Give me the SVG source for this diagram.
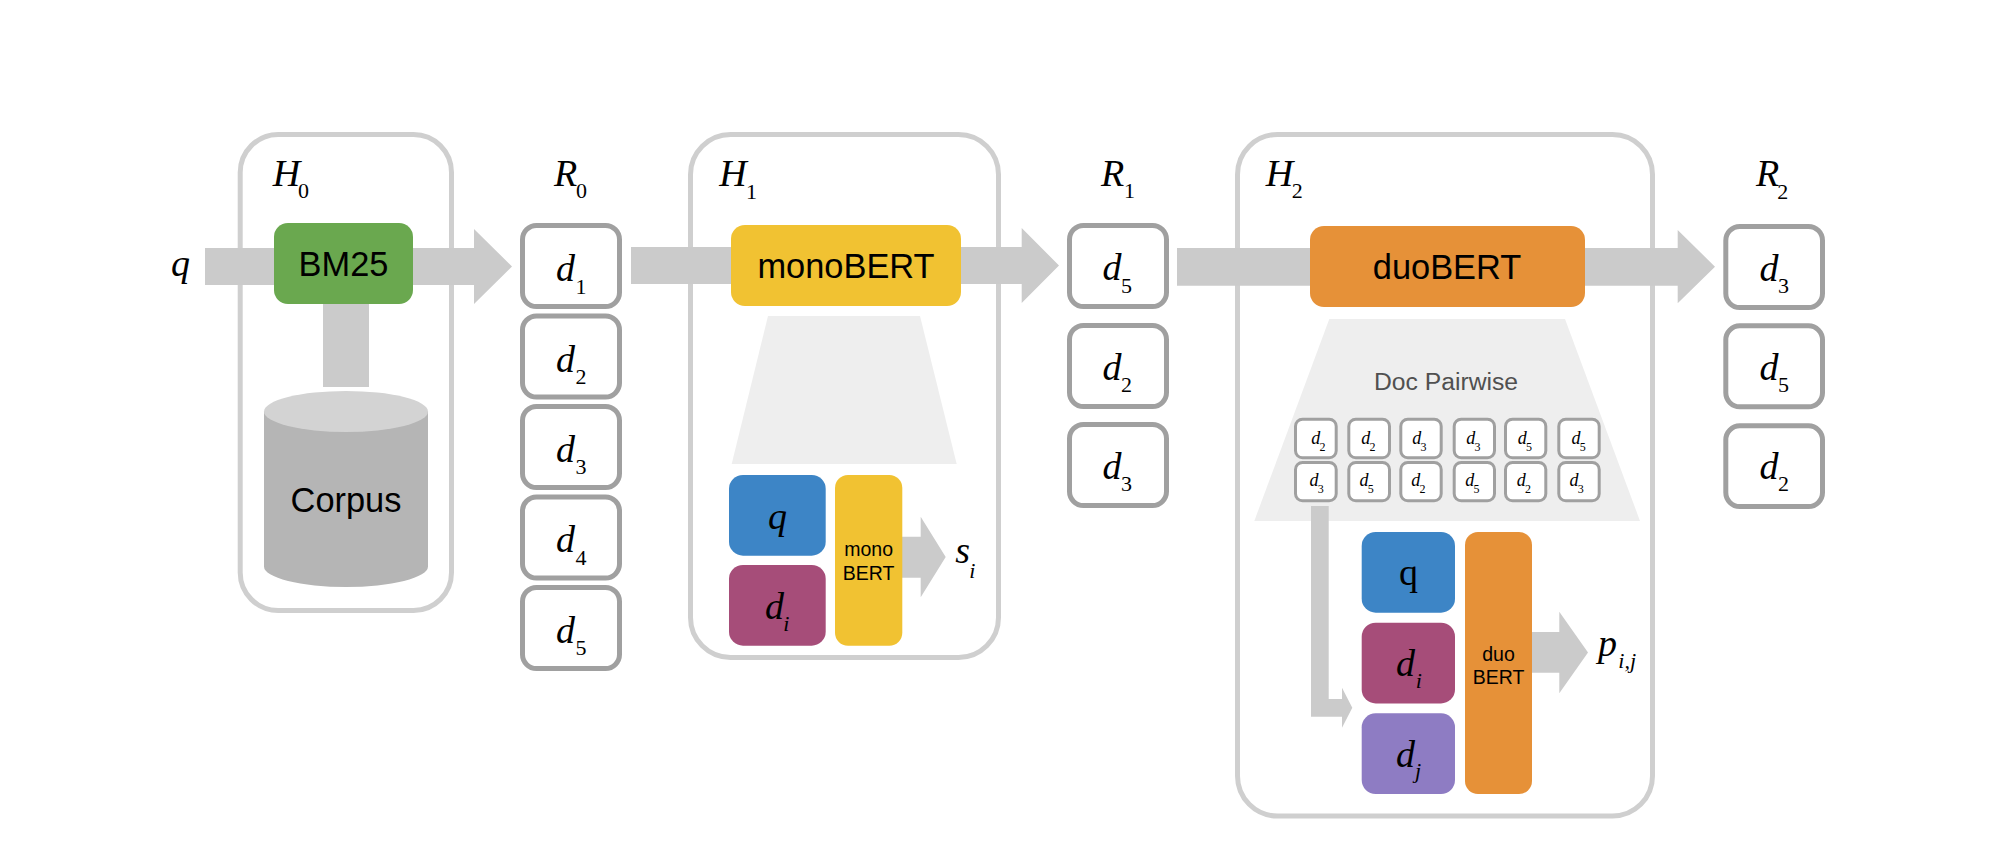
<svg xmlns="http://www.w3.org/2000/svg" width="1997" height="857" viewBox="0 0 1997 857">
<style>
.frame{fill:#fff;stroke:#cfcfcf;stroke-width:5}
.doc{fill:#fff;stroke:#a0a0a0;stroke-width:5}
.pair{fill:#fff;stroke:#a0a0a0;stroke-width:3}
.arrow{fill:#cbcbcb}
.funnel{fill:#eeeeee}
.m{font-family:"Liberation Serif","Times New Roman",serif;font-style:italic;font-size:38px;fill:#000}
.sub{font-family:"Liberation Serif","Times New Roman",serif;font-size:22px;fill:#000}
.subi{font-family:"Liberation Serif","Times New Roman",serif;font-style:italic;font-size:22px;fill:#000}
.sm{font-family:"Liberation Serif","Times New Roman",serif;font-style:italic;font-size:18px;fill:#000}
.smsub{font-family:"Liberation Serif","Times New Roman",serif;font-size:12px;fill:#000}
.lg{font-family:"Liberation Sans",Arial,sans-serif;font-size:34.4px;fill:#000;text-anchor:middle}
.ss{font-family:"Liberation Sans",Arial,sans-serif;font-size:19.5px;fill:#000;text-anchor:middle}
</style>

<g id="H0">
<rect class="frame" x="240.2" y="134.5" width="211.3" height="476" rx="38"/>
<text class="m" x="272.7" y="186">H</text><text class="sub" x="298" y="198">0</text>
</g>
<g id="H1">
<rect class="frame" x="690.5" y="134.5" width="308" height="523" rx="40"/>
<text class="m" x="719.3" y="186">H</text><text class="sub" x="746" y="198.5">1</text>
<polygon class="funnel" points="768,316 920,316 956.7,464 731.7,464"/>
</g>
<g id="H2">
<rect class="frame" x="1237.5" y="134.5" width="415" height="681.5" rx="40"/>
<text class="m" x="1265.7" y="186">H</text><text class="sub" x="1291.7" y="198">2</text>
<polygon class="funnel" points="1329.3,319 1565,319 1640,521 1254.3,521"/>
<text x="1446" y="390" font-family="'Liberation Sans',Arial,sans-serif" font-size="24.7" fill="#505050" text-anchor="middle">Doc Pairwise</text>
</g>

<g id="connectors">
<path class="arrow" d="M205 248H474V229L512 266.5L474 304V285H205Z"/>
<rect class="arrow" x="323" y="304" width="46" height="83"/>
<path class="arrow" d="M631 247H1021.7V228L1059 265.5L1021.7 303V284H631Z"/>
<path class="arrow" d="M900 536.7H920.7V516.7L945.7 557L920.7 597.3V577.7H900Z"/>
<path class="arrow" d="M1177 248H1677.7V230L1715 266.7L1677.7 303.3V285.7H1177Z"/>
<path class="arrow" d="M1311 506H1328.7V699H1342V687.7L1352.3 707.7L1342 727.7V716.7H1311Z"/>
<path class="arrow" d="M1530 632H1559.3V611.7L1588 652.5L1559.3 693.3V672.7H1530Z"/>
</g>

<g id="q-input"><text class="m" x="171" y="276">q</text></g>

<g id="BM25">
<rect x="274" y="223" width="139" height="81" rx="14" fill="#6aa84f"/>
<text class="lg" x="343.5" y="276">BM25</text>
</g>
<g id="Corpus">
<path d="M264 411.5V566.5A82 20.5 0 0 0 428 566.5V411.5Z" fill="#b5b5b5"/>
<ellipse cx="346" cy="411.5" rx="82" ry="20.5" fill="#d3d3d3"/>
<text class="lg" x="346" y="512">Corpus</text>
</g>

<g id="R0">
<text class="m" x="554" y="186">R</text><text class="sub" x="576" y="198">0</text>
<g id="R0-d1"><rect class="doc" x="522.5" y="225.5" width="97" height="81" rx="14"/><text class="m" x="556" y="281">d</text><text class="sub" x="575.5" y="293.5">1</text></g>
<g id="R0-d2"><rect class="doc" x="522.5" y="316" width="97" height="81" rx="14"/><text class="m" x="556" y="371.5">d</text><text class="sub" x="575.5" y="384">2</text></g>
<g id="R0-d3"><rect class="doc" x="522.5" y="406.5" width="97" height="81" rx="14"/><text class="m" x="556" y="461.5">d</text><text class="sub" x="575.5" y="474">3</text></g>
<g id="R0-d4"><rect class="doc" x="522.5" y="497" width="97" height="81" rx="14"/><text class="m" x="556" y="552">d</text><text class="sub" x="575.5" y="564.5">4</text></g>
<g id="R0-d5"><rect class="doc" x="522.5" y="587.5" width="97" height="81" rx="14"/><text class="m" x="556" y="642.5">d</text><text class="sub" x="575.5" y="655">5</text></g>
</g>

<g id="monoBERT">
<rect x="731" y="225" width="230" height="81" rx="14" fill="#f1c232"/>
<text class="lg" x="846" y="278">monoBERT</text>
</g>
<g id="mono-q">
<rect x="729" y="475" width="96.7" height="80.7" rx="14" fill="#3d85c6"/>
<text class="m" x="768" y="528.5">q</text>
</g>
<g id="mono-di">
<rect x="729" y="565" width="96.7" height="80.7" rx="14" fill="#a64d79"/>
<text class="m" x="765" y="618.5">d</text><text class="subi" x="783.3" y="631">i</text>
</g>
<g id="mono-bert">
<rect x="835" y="475" width="67.3" height="170.7" rx="13" fill="#f1c232"/>
<text class="ss" x="868.6" y="556">mono</text><text class="ss" x="868.6" y="580">BERT</text>
</g>
<g id="s-i"><text class="m" x="955.3" y="563">s</text><text class="subi" x="969.3" y="578">i</text></g>

<g id="R1">
<text class="m" x="1101" y="186">R</text><text class="sub" x="1124" y="198">1</text>
<g id="R1-d5"><rect class="doc" x="1069.5" y="225.5" width="97" height="81" rx="14"/><text class="m" x="1102.5" y="280">d</text><text class="sub" x="1121" y="292.5">5</text></g>
<g id="R1-d2"><rect class="doc" x="1069.5" y="325.5" width="97" height="81" rx="14"/><text class="m" x="1102.5" y="379.5">d</text><text class="sub" x="1121" y="392">2</text></g>
<g id="R1-d3"><rect class="doc" x="1069.5" y="424.5" width="97" height="81" rx="14"/><text class="m" x="1102.5" y="478.5">d</text><text class="sub" x="1121" y="491">3</text></g>
</g>

<g id="duoBERT">
<rect x="1310" y="226" width="275" height="81" rx="14" fill="#e69138"/>
<text class="lg" x="1447" y="279.3">duoBERT</text>
</g>

<g id="pairs">
<g id="p1"><rect class="pair" x="1295.5" y="419.2" width="40.7" height="38.6" rx="7"/><text class="sm" x="1311.2" y="444">d</text><text class="smsub" x="1319.5" y="450.5">2</text>
<rect class="pair" x="1295.5" y="462.5" width="40.7" height="38.3" rx="7"/><text class="sm" x="1309.5" y="486">d</text><text class="smsub" x="1317.7" y="493">3</text></g>
<g id="p2"><rect class="pair" x="1348.8" y="419.2" width="40.7" height="38.6" rx="7"/><text class="sm" x="1361.2" y="444">d</text><text class="smsub" x="1369.5" y="450.5">2</text>
<rect class="pair" x="1348.8" y="462.5" width="40.7" height="38.3" rx="7"/><text class="sm" x="1359.5" y="486">d</text><text class="smsub" x="1367.7" y="493">5</text></g>
<g id="p3"><rect class="pair" x="1400.8" y="419.2" width="40.4" height="38.6" rx="7"/><text class="sm" x="1412.2" y="444">d</text><text class="smsub" x="1420.5" y="450.5">3</text>
<rect class="pair" x="1400.8" y="462.5" width="40.4" height="38.3" rx="7"/><text class="sm" x="1411.2" y="486">d</text><text class="smsub" x="1419.5" y="493">2</text></g>
<g id="p4"><rect class="pair" x="1454.2" y="419.2" width="40.3" height="38.6" rx="7"/><text class="sm" x="1466.2" y="444">d</text><text class="smsub" x="1474.5" y="450.5">3</text>
<rect class="pair" x="1454.2" y="462.5" width="40.3" height="38.3" rx="7"/><text class="sm" x="1465.2" y="486">d</text><text class="smsub" x="1473.5" y="493">5</text></g>
<g id="p5"><rect class="pair" x="1505.5" y="419.2" width="40.3" height="38.6" rx="7"/><text class="sm" x="1517.8" y="444">d</text><text class="smsub" x="1526" y="450.5">5</text>
<rect class="pair" x="1505.5" y="462.5" width="40.3" height="38.3" rx="7"/><text class="sm" x="1516.8" y="486">d</text><text class="smsub" x="1525" y="493">2</text></g>
<g id="p6"><rect class="pair" x="1558.8" y="419.2" width="40.4" height="38.6" rx="7"/><text class="sm" x="1571.5" y="444">d</text><text class="smsub" x="1579.7" y="450.5">5</text>
<rect class="pair" x="1558.8" y="462.5" width="40.4" height="38.3" rx="7"/><text class="sm" x="1569.5" y="486">d</text><text class="smsub" x="1577.7" y="493">3</text></g>
</g>

<g id="duo-q">
<rect x="1361.7" y="532" width="93.3" height="80.7" rx="14" fill="#3d85c6"/>
<text x="1399" y="584.5" font-family="'Liberation Serif','Times New Roman',serif" font-size="38" fill="#000">q</text>
</g>
<g id="duo-di">
<rect x="1361.7" y="622.7" width="93.3" height="80.7" rx="14" fill="#a64d79"/>
<text class="m" x="1396" y="675.5">d</text><text class="subi" x="1415.7" y="688">i</text>
</g>
<g id="duo-dj">
<rect x="1361.7" y="713.3" width="93.3" height="80.7" rx="14" fill="#8e7cc3"/>
<text class="m" x="1396" y="766.5">d</text><text class="subi" x="1415" y="778">j</text>
</g>
<g id="duo-bert">
<rect x="1465" y="532" width="67" height="262" rx="13" fill="#e69138"/>
<text class="ss" x="1498.5" y="661">duo</text><text class="ss" x="1498.5" y="684.3">BERT</text>
</g>
<g id="p-ij"><text class="m" x="1598" y="656">p</text><text class="subi" x="1618.3" y="667.5">i,j</text></g>

<g id="R2">
<text class="m" x="1756" y="186">R</text><text class="sub" x="1777.3" y="198.5">2</text>
<g id="R2-d3"><rect class="doc" x="1725.8" y="226.5" width="96.7" height="81" rx="14"/><text class="m" x="1759.5" y="280.5">d</text><text class="sub" x="1778" y="293">3</text></g>
<g id="R2-d5"><rect class="doc" x="1725.8" y="325.8" width="96.7" height="81" rx="14"/><text class="m" x="1759.5" y="379.5">d</text><text class="sub" x="1778" y="392">5</text></g>
<g id="R2-d2"><rect class="doc" x="1725.8" y="425.8" width="96.7" height="80.7" rx="14"/><text class="m" x="1759.5" y="478.8">d</text><text class="sub" x="1778" y="491.3">2</text></g>
</g>
</svg>
